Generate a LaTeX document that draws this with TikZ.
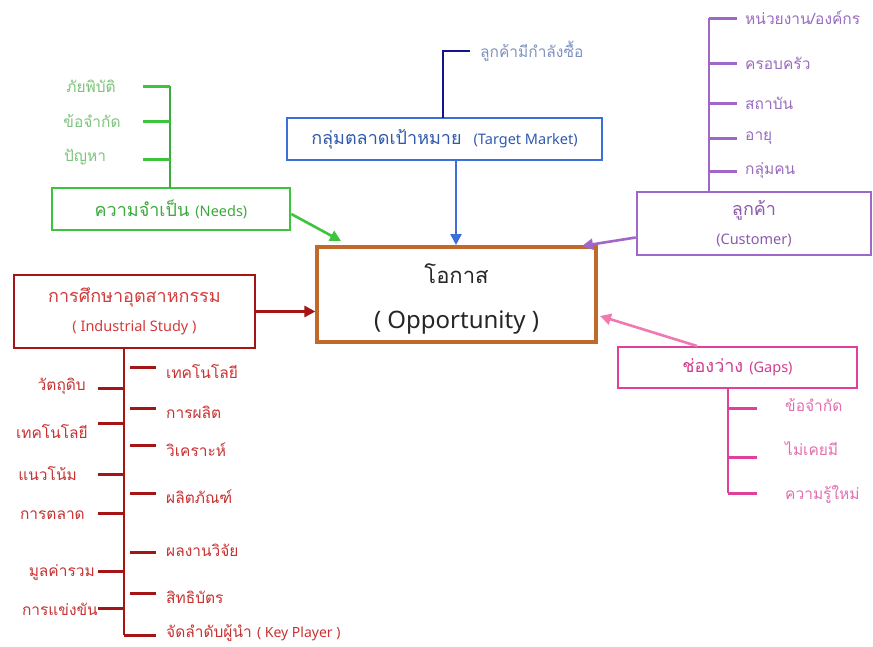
\documentclass[tikz,border=0pt]{standalone}
\usepackage{fontspec}
\newfontfamily\thai[Script=Thai]{Loma}
\newfontfamily\enfont{Noto Sans}
\newcommand{\en}[1]{{\enfont\fontsize{14.5}{17}\selectfont #1}}
\newcommand{\enl}[1]{{\enfont\fontsize{14}{17}\selectfont #1}}
\usetikzlibrary{arrows.meta}
\definecolor{gBox}{HTML}{3CC43C}
\definecolor{gTxt}{HTML}{3DAA3D}
\definecolor{gLbl}{HTML}{7CC47C}
\definecolor{bBox}{HTML}{3C6FD9}
\definecolor{bNavy}{HTML}{14148C}
\definecolor{bLbl}{HTML}{7F93C0}
\definecolor{pBox}{HTML}{A066C8}
\definecolor{pTxt}{HTML}{8C5AAE}
\definecolor{pLbl}{HTML}{9A6CC0}
\definecolor{oBox}{HTML}{C0692A}
\definecolor{rBox}{HTML}{A51515}
\definecolor{rTxt}{HTML}{D23C3C}
\definecolor{rLbl}{HTML}{C83232}
\definecolor{kBox}{HTML}{E0409A}
\definecolor{kArr}{HTML}{F07AB0}
\definecolor{kTxt}{HTML}{D23C8C}
\definecolor{kLbl}{HTML}{E070B0}
\tikzset{
  box/.style={draw, line width=2.6pt, inner sep=0pt, align=center, font=\thai\fontsize{18}{29}\selectfont},
  lbl/.style={inner sep=0pt, font=\thai\fontsize{15.5}{18}\selectfont},
  stub/.style={line width=3pt},
  trunk/.style={line width=1.7pt},
  arr/.style={line width=2.6pt, -{Triangle[length=11pt,width=11pt]}}
}
\begin{document}
\begin{tikzpicture}[x=1pt,y=-1pt]
\useasboundingbox (0,0) rectangle (873,646);
\fill[white] (0,0) rectangle (873,646);

% ---- Opportunity ----
\node[box, draw=oBox, line width=3.2pt, minimum width=279pt, minimum height=95pt] (opp) at (456.5,294.5) {};
\node[inner sep=0pt, align=center, font=\thai\fontsize{22}{45}\selectfont, text=black!85]
  (oppt) at ([yshift=-4pt]opp.center)
  {โอกาส\\{\enfont\fontsize{24}{28}\selectfont ( Opportunity )}};

% ---- Needs ----
\node[box, draw=gBox, text=gTxt, minimum width=238pt, minimum height=42pt] (needs) at (171,209)
  {ความจำเป็น \en{(Needs)}};
\coordinate (nTop) at (170,86);
\draw[trunk, gTxt] (nTop) -- (170,188);
\node[lbl, text=gLbl] (n1) at (91,86) {ภัยพิบัติ};
\node[lbl, text=gLbl] (n2) at (92,121) {ข้อจำกัด};
\node[lbl, text=gLbl] (n3) at (85,157) {ปัญหา};
\draw[stub, gBox] (143,86) -- (nTop);
\draw[stub, gBox] (143,121) -- (170,121);
\draw[stub, gBox] (143,159) -- (170,159);
\coordinate (nTip) at (341,241);
\draw[arr, gBox] ([yshift=-5pt]needs.east) -- (nTip);

% ---- Target market ----
\node[box, draw=bBox, text=bBox!80!black, minimum width=315pt, minimum height=42pt] (tm) at (444.5,139)
  {กลุ่มตลาดเป้าหมาย\hspace{12pt}\en{(Target Market)}};
\coordinate (tmc) at (443,51);
\node[lbl, text=bLbl, anchor=west] (t1) at (480,51) {ลูกค้ามีกำลังซื้อ};
\draw[line width=2.4pt, bNavy] (443,118) -- (tmc) -- (470,51);
\draw[arr, bBox] (456,160) -- (456,245);

% ---- Customer ----
\node[box, draw=pBox, text=pTxt, minimum width=234pt, minimum height=63pt] (cus) at (754,223.5)
  {ลูกค้า\\\en{(Customer)}};
\draw[trunk, pBox] (709,18) -- (709,192);
\foreach \yy/\tt [count=\i] in {18/{หน่วยงาน/องค์กร},63/ครอบครัว,103/สถาบัน,138/อายุ,171/กลุ่มคน}{
  \draw[stub, pBox] (709,\yy) -- (737,\yy);
  \node[lbl, text=pLbl, anchor=west] (c\i) at (745,\yy) {\tt};
}
\coordinate (cTip) at (582,246);
\draw[arr, pBox] ([yshift=-14pt]cus.west) -- (cTip);

% ---- Industrial study ----
\node[box, draw=rBox, text=rTxt, minimum width=241pt, minimum height=73pt] (ind) at (134.5,311.5)
  {การศึกษาอุตสาหกรรม\\\en{( Industrial Study )}};
\draw[arr, rBox] (ind.east) -- (ind.east -| opp.west);
\coordinate (iBot) at (124,635);
\draw[trunk, rBox] (124,348) -- (iBot);
\foreach \yy/\ly/\tt [count=\i] in {367/372/เทคโนโลยี,408/412/การผลิต,445/450/วิเคราะห์,493/497/ผลิตภัณฑ์,552/550/ผลงานวิจัย,593/597/สิทธิบัตร}{
  \draw[stub, rBox] (130,\yy) -- (156,\yy);
  \node[lbl, text=rLbl, anchor=west] (r\i) at (166,\ly) {\tt};
}
\draw[stub, rBox] (iBot) -- (156,635);
\node[lbl, text=rLbl, anchor=west] (r7) at (166,633) {จัดลำดับผู้นำ \enl{( Key Player )}};
\foreach \yy/\ly/\xr/\tt [count=\i] in {388/386/86/วัตถุดิบ,423/432/88/เทคโนโลยี,474/474/77/แนวโน้ม,513/515/85/การตลาด,571/573/95/มูลค่ารวม,608/609/98/การแข่งขัน}{
  \draw[stub, rBox] (98,\yy) -- (124,\yy);
  \node[lbl, text=rLbl, anchor=east] (l\i) at (\xr,\ly) {\tt};
}

% ---- Gaps ----
\node[box, draw=kBox, text=kTxt, minimum width=239pt, minimum height=41pt] (gap) at (737.5,367.5)
  {ช่องว่าง \en{(Gaps)}};
\coordinate (gTip) at (600,316);
\draw[arr, kArr] (697,346) -- (gTip);
\draw[trunk, kBox] (728,388) -- (728,493);
\foreach \yy/\ly/\tt [count=\i] in {408/405/ข้อจำกัด,457/449/ไม่เคยมี,493/495/ความรู้ใหม่}{
  \draw[stub, kBox] (728,\yy) -- (757,\yy);
  \node[lbl, text=kLbl, anchor=west] (k\i) at (785,\ly) {\tt};
}
\end{tikzpicture}
\end{document}
